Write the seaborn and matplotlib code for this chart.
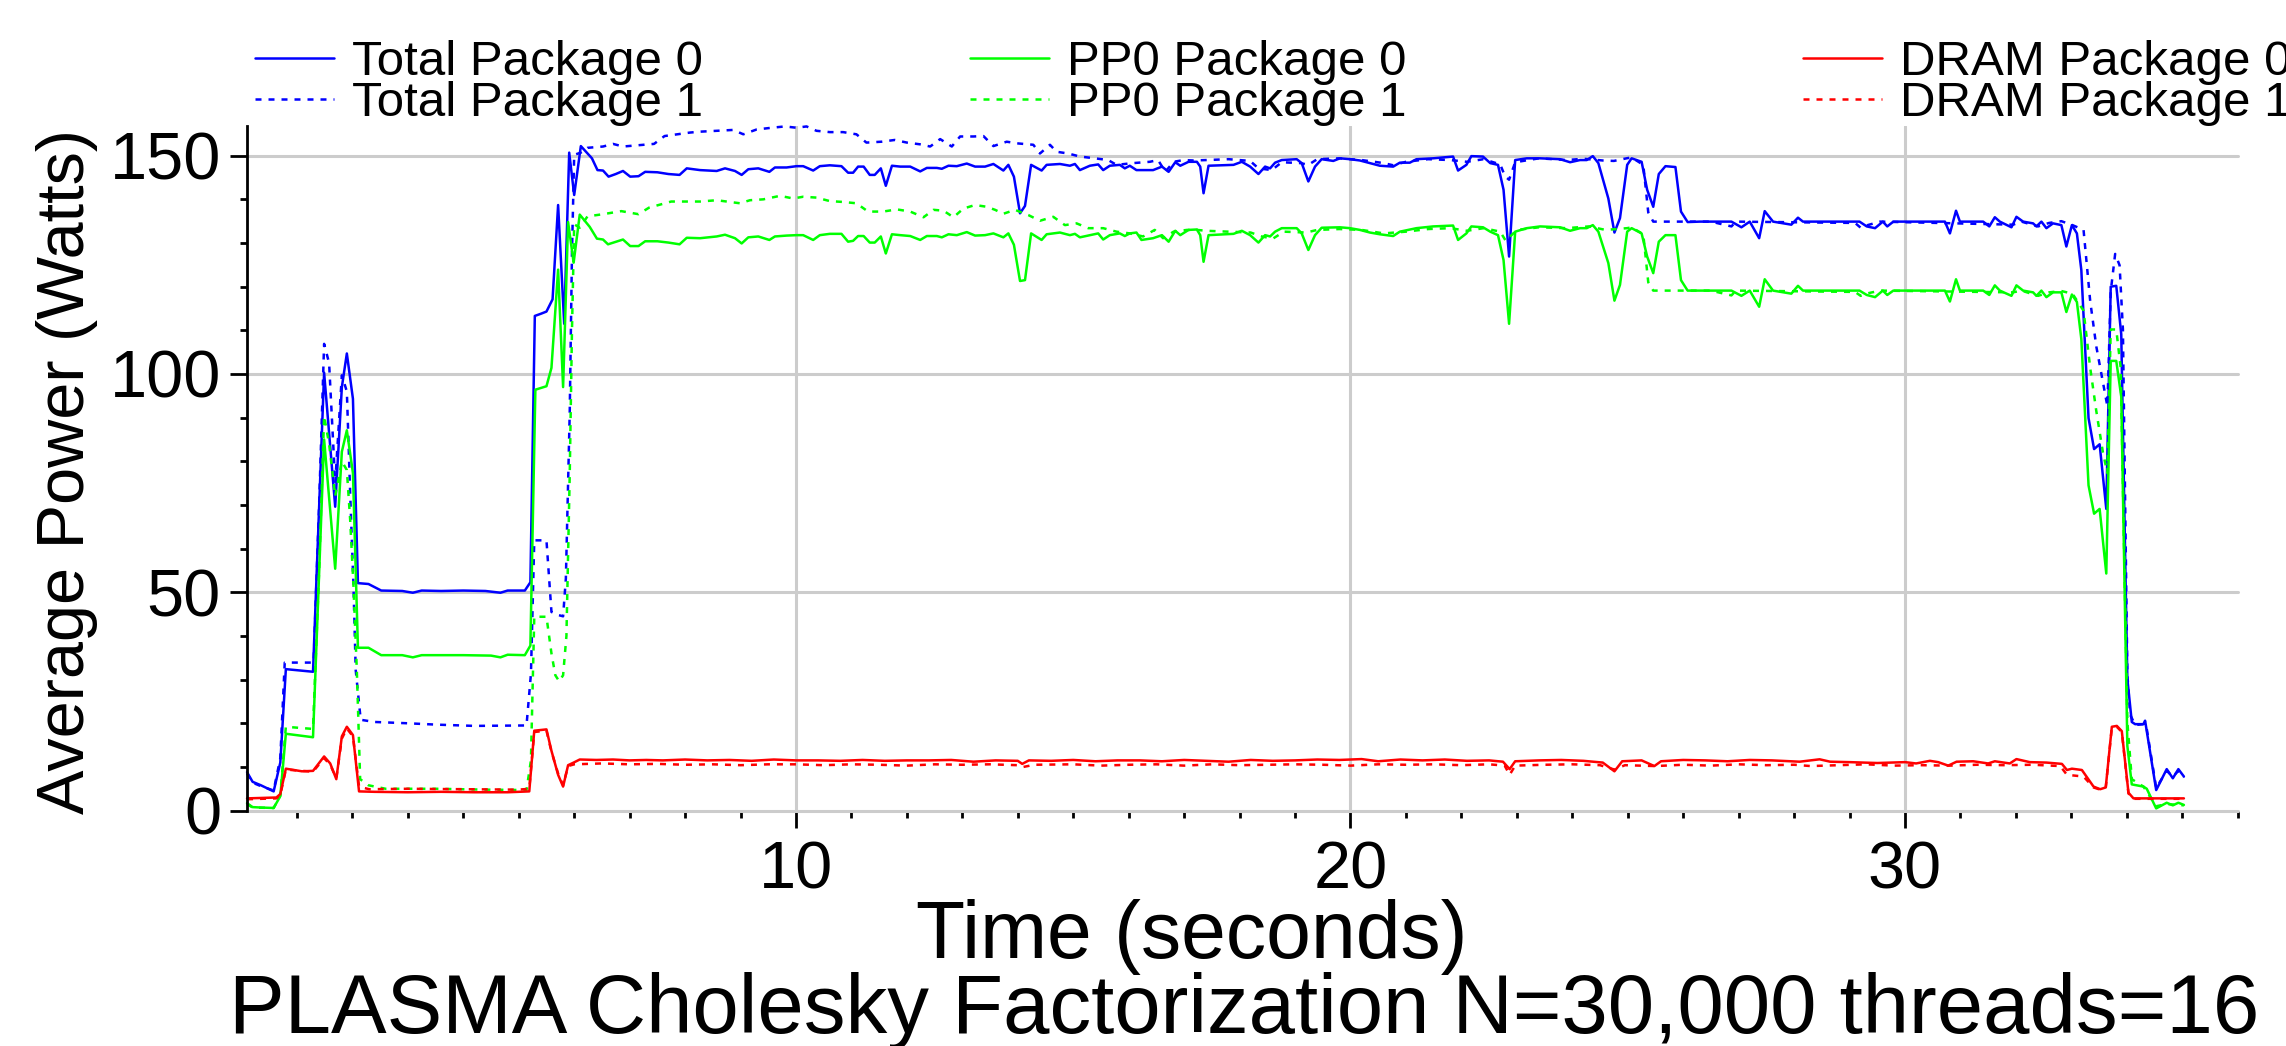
import matplotlib
matplotlib.use("Agg")
import matplotlib.pyplot as plt
import seaborn as sns
from matplotlib.ticker import MultipleLocator

# RAPL power readings, watts per package
total0_t = [0.10, 0.20, 0.35, 0.58, 0.70, 0.80, 1.29, 1.49, 1.69, 1.81, 1.90, 2.01, 2.10, 2.29, 2.52, 2.90, 3.09, 3.25, 3.60, 4.00, 4.40, 4.67, 4.80, 5.11, 5.21,
            5.29, 5.40, 5.50, 5.61, 5.71, 5.82, 5.91, 6.00, 6.12, 6.32, 6.42, 6.52, 6.62, 6.75, 6.88, 7.01, 7.16, 7.28, 7.50, 7.70, 7.90, 8.03, 8.27, 8.57,
            8.72, 8.90, 9.02, 9.14, 9.32, 9.52, 9.62, 9.83, 10.01, 10.13, 10.31, 10.43, 10.61, 10.82, 10.94, 11.03, 11.12, 11.22, 11.33, 11.42, 11.53, 11.62,
            11.73, 11.88, 12.06, 12.24, 12.36, 12.54, 12.63, 12.75, 12.90, 13.08, 13.23, 13.41, 13.56, 13.74, 13.83, 13.93, 14.04, 14.13, 14.24, 14.43, 14.52,
            14.76, 14.94, 15.03, 15.12, 15.30, 15.45, 15.54, 15.66, 15.84, 15.93, 16.02, 16.14, 16.44, 16.60, 16.72, 16.84, 16.93, 17.08, 17.23, 17.29, 17.35,
            17.44, 17.89, 18.04, 18.19, 18.34, 18.46, 18.55, 18.64, 18.76, 19.03, 19.12, 19.24, 19.36, 19.48, 19.69, 19.81, 19.99, 20.17, 20.35, 20.53, 20.77,
            20.89, 21.07, 21.19, 21.49, 21.85, 21.94, 22.09, 22.18, 22.39, 22.52, 22.66, 22.76, 22.86, 22.97, 23.18, 23.42, 23.78, 23.96, 24.14, 24.26, 24.37,
            24.47, 24.65, 24.76, 24.86, 24.99, 25.07, 25.25, 25.35, 25.46, 25.56, 25.68, 25.86, 25.96, 26.08, 26.30, 26.87, 27.05, 27.20, 27.37, 27.47, 27.62,
            27.95, 28.07, 28.16, 29.18, 29.31, 29.46, 29.60, 29.68, 29.79, 30.72, 30.81, 30.92, 30.99, 31.41, 31.52, 31.62, 31.71, 31.92, 32.01, 32.13, 32.31,
            32.37, 32.46, 32.55, 32.67, 32.82, 32.91, 33.01, 33.10, 33.18, 33.31, 33.41, 33.51, 33.63, 33.71, 33.81, 33.90, 34.01, 34.09, 34.15, 34.30, 34.33,
            34.53, 34.72, 34.83, 34.93, 35.03]
total0_w = [8.8, 6.6, 5.8, 4.4, 11.0, 32.4, 31.8, 100.3, 69.6, 97.0, 104.7, 94.3, 52.1, 51.9, 50.4, 50.3, 49.9, 50.4, 50.3, 50.4, 50.3, 49.9, 50.4, 50.4, 52.3,
            113.3, 113.8, 114.3, 117.1, 138.7, 111.5, 150.7, 141.0, 152.2, 149.4, 146.7, 146.6, 145.2, 145.8, 146.5, 145.2, 145.3, 146.3, 146.2, 145.8, 145.6, 147.1, 146.7, 146.5,
            147.1, 146.5, 145.6, 146.9, 147.1, 146.3, 147.3, 147.3, 147.6, 147.6, 146.6, 147.6, 147.8, 147.6, 146.1, 146.1, 147.5, 147.5, 145.6, 145.6, 147.1, 143.1,
            147.7, 147.5, 147.5, 146.4, 147.2, 147.2, 147.0, 147.7, 147.6, 148.2, 147.5, 147.5, 148.1, 146.6, 147.9, 145.2, 136.8, 138.5, 147.9, 146.6, 147.9,
            148.1, 147.7, 148.1, 146.7, 147.7, 148.0, 146.7, 147.7, 147.9, 147.1, 147.7, 146.7, 146.7, 147.5, 146.3, 148.5, 147.7, 148.6, 148.6, 147.5, 141.4,
            147.7, 147.9, 148.6, 147.5, 145.8, 147.5, 147.1, 148.4, 149.0, 149.2, 148.3, 144.1, 147.5, 149.2, 148.8, 149.4, 149.2, 148.9, 148.3, 147.7, 147.5,
            148.4, 148.4, 149.2, 149.4, 149.8, 146.6, 147.9, 149.9, 149.8, 148.3, 147.9, 142.2, 126.9, 149.0, 149.4, 149.4, 149.2, 148.5, 149.0, 149.0, 149.9,
            148.3, 140.2, 132.4, 135.7, 147.9, 149.4, 148.6, 142.2, 138.3, 145.8, 147.6, 147.4, 137.2, 134.8, 134.9, 134.9, 133.6, 134.9, 131.1, 137.3, 134.9,
            134.2, 135.8, 134.9, 134.9, 133.8, 133.4, 134.9, 133.8, 134.9, 134.9, 132.2, 137.4, 134.9, 134.9, 133.8, 135.9, 134.9, 133.6, 136.0, 134.9, 134.5,
            133.8, 134.9, 133.4, 134.5, 134.1, 129.2, 134.1, 132.2, 123.8, 89.9, 82.8, 83.9, 69.1, 120.0, 120.2, 109.1, 30.2, 20.3, 19.8, 19.8, 20.6,
            4.7, 9.5, 7.4, 9.5, 7.8]

total1_t = [0.10, 0.20, 0.35, 0.58, 0.70, 0.78, 1.30, 1.40, 1.49, 1.58, 1.69, 1.81, 1.90, 1.96, 2.02, 2.06, 2.15, 2.40, 3.00, 3.50, 4.20, 5.14, 5.22, 5.28,
            5.50, 5.59, 5.71, 5.80, 5.85, 5.92, 5.96, 6.00, 6.12, 6.24, 6.52, 6.70, 6.88, 7.16, 7.44, 7.63, 8.09, 8.27, 8.57, 8.87, 9.05, 9.29, 9.56, 9.80,
            10.01, 10.19, 10.37, 10.61, 10.85, 11.09, 11.27, 11.54, 11.78, 12.00, 12.24, 12.42, 12.60, 12.81, 12.96, 13.20, 13.38, 13.56, 13.80, 14.01, 14.28,
            14.40, 14.58, 14.70, 14.91, 15.12, 15.39, 15.63, 15.78, 16.08, 16.38, 16.53, 16.66, 16.81, 16.99, 17.17, 17.40, 17.80, 18.19, 18.34, 18.58, 18.76,
            19.10, 19.24, 19.40, 19.80, 20.20, 20.60, 20.77, 21.00, 21.40, 21.80, 22.10, 22.40, 22.70, 22.79, 22.86, 22.97, 23.40, 23.90, 24.20, 24.55, 24.75,
            24.98, 25.07, 25.28, 25.37, 25.46, 26.50, 26.87, 26.95, 29.10, 29.20, 29.30, 29.55, 31.95, 32.10, 32.40, 32.60, 32.82, 33.02, 33.22, 33.34, 33.45,
            33.57, 33.65, 33.71, 33.79, 33.87, 33.93, 34.01, 34.06, 34.15, 34.30, 34.35, 34.53, 34.72, 34.83, 34.93, 35.03]
total1_w = [8.5, 6.4, 5.6, 4.6, 12.0, 33.9, 33.9, 70.0, 106.9, 102.5, 75.0, 99.7, 96.0, 72.7, 51.3, 32.2, 20.8, 20.3, 20.0, 19.7, 19.4, 19.5, 31.3, 61.9,
            61.9, 45.5, 44.8, 44.5, 53.2, 91.5, 127.7, 150.2, 150.7, 151.8, 152.1, 152.7, 152.1, 152.4, 152.7, 154.5, 155.3, 155.5, 155.7, 155.9, 154.9, 156.0, 156.4, 156.7,
            156.4, 156.7, 155.7, 155.4, 155.4, 154.9, 153.0, 153.2, 153.6, 153.0, 152.6, 152.1, 153.8, 152.1, 154.4, 154.4, 154.5, 152.2, 153.2, 152.8, 152.5,
            150.5, 152.5, 150.9, 150.5, 149.8, 149.4, 149.0, 147.9, 148.3, 148.6, 149.0, 146.3, 148.6, 149.0, 148.9, 149.0, 149.2, 148.8, 147.1, 146.7, 148.5,
            148.3, 147.9, 149.2, 149.4, 149.0, 148.3, 147.8, 148.6, 149.2, 149.0, 148.6, 149.2, 148.0, 145.2, 144.5, 148.5, 149.4, 149.0, 149.3, 148.9, 148.8,
            149.4, 149.6, 147.9, 137.0, 134.9, 134.9, 133.8, 134.9, 134.6, 133.5, 134.0, 134.9, 134.2, 134.9, 133.8, 134.6, 135.0, 134.1, 133.0, 116.7, 106.3,
            98.1, 92.6, 118.9, 127.5, 124.9, 110.2, 31.3, 22.0, 19.6, 19.8, 19.5, 5.2, 9.1, 7.8, 9.1, 7.6]

pp0_0_t = [0.10, 0.20, 0.35, 0.58, 0.70, 0.80, 1.29, 1.49, 1.69, 1.81, 1.90, 2.01, 2.10, 2.29, 2.52, 2.90, 3.09, 3.25, 4.00, 4.50, 4.67, 4.80, 5.11, 5.21,
           5.30, 5.50, 5.59, 5.71, 5.80, 5.89, 5.99, 6.10, 6.28, 6.41, 6.52, 6.61, 6.88, 7.01, 7.16, 7.28, 7.50, 7.70, 7.90, 8.03, 8.27, 8.57, 8.72, 8.90,
           9.02, 9.14, 9.32, 9.52, 9.62, 9.83, 10.01, 10.13, 10.31, 10.43, 10.61, 10.82, 10.94, 11.03, 11.12, 11.22, 11.33, 11.42, 11.53, 11.62, 11.73,
           11.88, 12.06, 12.24, 12.36, 12.54, 12.63, 12.75, 12.90, 13.08, 13.23, 13.41, 13.56, 13.74, 13.83, 13.93, 14.04, 14.13, 14.24, 14.43, 14.52, 14.76,
           14.94, 15.03, 15.12, 15.30, 15.45, 15.54, 15.66, 15.84, 15.93, 16.02, 16.14, 16.23, 16.44, 16.60, 16.72, 16.84, 16.93, 17.08, 17.23, 17.29, 17.35,
           17.44, 17.89, 18.04, 18.19, 18.34, 18.46, 18.55, 18.64, 18.76, 19.03, 19.12, 19.24, 19.36, 19.48, 19.81, 19.99, 20.17, 20.35, 20.53, 20.77, 20.89,
           21.19, 21.49, 21.85, 21.94, 22.09, 22.18, 22.39, 22.52, 22.66, 22.76, 22.86, 22.97, 23.18, 23.42, 23.78, 23.96, 24.14, 24.26, 24.37, 24.47, 24.65,
           24.76, 24.86, 24.99, 25.07, 25.25, 25.35, 25.46, 25.56, 25.68, 25.86, 25.96, 26.08, 26.30, 26.87, 27.05, 27.20, 27.37, 27.47, 27.62, 27.95, 28.07,
           28.16, 29.18, 29.31, 29.46, 29.60, 29.68, 29.79, 30.72, 30.81, 30.92, 30.99, 31.41, 31.52, 31.62, 31.71, 31.92, 32.01, 32.13, 32.31, 32.37, 32.46,
           32.55, 32.67, 32.82, 32.91, 33.01, 33.10, 33.18, 33.31, 33.41, 33.51, 33.63, 33.71, 33.81, 33.90, 34.01, 34.09, 34.30, 34.36, 34.53, 34.72, 34.83,
           34.93, 35.03]
pp0_0_w = [1.7, 0.8, 0.7, 0.6, 3.3, 17.6, 16.8, 85.0, 55.4, 82.2, 87.1, 77.3, 37.3, 37.3, 35.6, 35.6, 35.1, 35.6, 35.6, 35.5, 35.1, 35.7, 35.6, 37.8,
           96.4, 97.2, 101.4, 123.9, 97.0, 134.8, 125.5, 136.5, 133.7, 131.0, 130.8, 129.7, 130.8, 129.3, 129.3, 130.4, 130.4, 130.1, 129.7, 131.2, 131.1, 131.5, 131.9, 131.1,
           129.9, 131.3, 131.5, 130.7, 131.5, 131.7, 131.8, 131.8, 130.7, 131.8, 132.1, 132.1, 130.3, 130.5, 131.6, 131.6, 130.1, 130.1, 131.5, 127.6, 132.0,
           131.8, 131.6, 130.7, 131.6, 131.6, 131.3, 132.0, 131.8, 132.5, 131.7, 131.8, 132.2, 131.3, 132.2, 129.6, 121.3, 121.5, 132.2, 130.7, 132.0, 132.4,
           131.8, 132.1, 131.3, 131.8, 132.2, 130.8, 131.8, 132.2, 131.6, 132.2, 132.4, 130.7, 131.1, 131.8, 130.3, 132.8, 131.8, 133.0, 133.1, 131.8, 125.7,
           131.8, 132.1, 132.8, 131.8, 130.1, 131.8, 131.5, 132.6, 133.4, 133.4, 132.2, 128.4, 131.8, 133.5, 133.6, 133.4, 133.0, 132.4, 132.0, 131.6, 132.6,
           133.4, 133.8, 134.0, 130.7, 132.2, 133.8, 133.6, 132.6, 131.8, 126.1, 111.5, 132.6, 133.4, 133.8, 133.6, 132.8, 133.4, 133.4, 134.1, 132.6, 125.4,
           116.8, 120.4, 132.6, 133.4, 132.2, 126.9, 123.1, 130.3, 131.8, 131.8, 121.5, 119.1, 119.1, 119.1, 117.9, 119.1, 115.4, 121.7, 119.1, 118.4, 120.2,
           119.1, 119.1, 118.1, 117.6, 119.1, 118.1, 119.1, 119.1, 116.6, 121.7, 119.1, 119.1, 118.1, 120.3, 119.1, 117.9, 120.3, 119.1, 118.7, 117.9, 119.1,
           117.6, 118.7, 118.7, 114.2, 118.2, 116.5, 108.0, 74.5, 68.0, 69.1, 54.3, 103.0, 103.0, 94.8, 14.8, 6.0, 5.5, 5.0, 0.5, 1.8, 1.2,
           1.8, 1.3]

pp0_1_t = [0.10, 0.20, 0.58, 0.70, 0.80, 1.29, 1.40, 1.49, 1.58, 1.69, 1.81, 1.90, 1.96, 2.02, 2.08, 2.14, 2.29, 2.60, 3.50, 4.40, 5.14, 5.22, 5.28, 5.50,
           5.59, 5.66, 5.73, 5.80, 5.86, 5.92, 5.96, 6.00, 6.10, 6.24, 6.52, 6.85, 7.16, 7.35, 7.75, 8.27, 8.57, 8.99, 9.17, 9.41, 9.71, 9.95, 10.13, 10.37,
           10.61, 10.85, 11.09, 11.30, 11.57, 11.82, 12.06, 12.30, 12.48, 12.66, 12.84, 13.02, 13.23, 13.44, 13.59, 13.74, 13.95, 14.19, 14.40, 14.64, 14.85,
           15.06, 15.27, 15.54, 15.78, 16.02, 16.26, 16.47, 16.62, 16.81, 17.05, 17.23, 17.40, 17.80, 18.20, 18.40, 18.60, 18.80, 19.20, 19.40, 19.80, 20.20,
           20.60, 21.00, 21.40, 21.80, 22.10, 22.40, 22.70, 22.80, 23.00, 23.40, 23.90, 24.30, 24.60, 24.99, 25.07, 25.28, 25.37, 25.46, 26.50, 26.87, 26.95,
           29.10, 29.20, 29.30, 29.55, 31.95, 32.10, 32.40, 32.60, 32.82, 33.02, 33.22, 33.34, 33.45, 33.57, 33.65, 33.71, 33.81, 33.89, 34.01, 34.09, 34.30,
           34.53, 34.72, 35.03]
pp0_1_w = [1.5, 0.7, 0.6, 3.5, 19.2, 18.7, 55.0, 90.4, 84.0, 72.0, 80.0, 78.0, 66.6, 51.3, 32.2, 7.2, 5.8, 5.0, 5.0, 4.8, 4.7, 11.5, 44.4, 44.4,
           36.0, 31.0, 29.6, 31.0, 40.0, 77.3, 110.0, 134.3, 133.5, 136.1, 136.6, 137.3, 136.6, 138.1, 139.5, 139.5, 139.8, 139.1, 139.8, 140.0, 140.8, 140.2, 140.6, 140.4,
           139.6, 139.4, 139.1, 137.2, 137.2, 137.7, 137.2, 135.9, 137.6, 137.4, 135.9, 137.9, 138.7, 138.3, 137.6, 136.7, 137.6, 136.4, 135.1, 136.0, 134.1,
           134.5, 133.4, 133.4, 132.6, 132.2, 131.5, 133.0, 131.1, 132.6, 133.0, 133.0, 132.8, 132.6, 132.4, 131.5, 131.0, 132.6, 132.4, 133.0, 133.2, 133.0,
           132.2, 132.6, 133.2, 133.4, 132.8, 133.4, 132.6, 130.5, 133.0, 133.6, 133.4, 133.8, 133.0, 133.4, 133.6, 132.0, 121.0, 119.1, 119.1, 118.0, 119.1,
           118.8, 117.9, 118.4, 119.1, 118.7, 119.1, 117.9, 118.7, 119.0, 118.4, 114.5, 101.4, 91.5, 82.0, 77.3, 110.2, 110.2, 101.4, 20.3, 7.2, 5.5,
           1.0, 1.5, 1.2]

dram0_t = [0.10, 0.63, 0.70, 0.80, 1.09, 1.29, 1.49, 1.60, 1.71, 1.81, 1.90, 2.01, 2.12, 2.40, 3.00, 3.60, 4.20, 4.80, 5.19, 5.28, 5.50, 5.59, 5.71, 5.80,
           5.89, 5.99, 6.10, 6.40, 6.70, 7.00, 7.30, 7.60, 8.00, 8.40, 8.80, 9.20, 9.60, 10.00, 10.40, 10.80, 11.20, 11.60, 12.00, 12.40, 12.80, 13.20, 13.60,
           14.00, 14.08, 14.20, 14.60, 15.00, 15.40, 15.80, 16.20, 16.60, 17.00, 17.40, 17.80, 18.20, 18.60, 19.00, 19.40, 19.80, 20.20, 20.50, 20.90, 21.30,
           21.70, 22.10, 22.50, 22.75, 22.87, 22.97, 23.40, 23.80, 24.20, 24.55, 24.76, 24.90, 25.25, 25.48, 25.60, 26.00, 26.40, 26.80, 27.20, 27.60, 28.10,
           28.46, 28.65, 29.00, 29.50, 30.00, 30.20, 30.45, 30.60, 30.78, 30.93, 31.23, 31.50, 31.62, 31.89, 32.01, 32.25, 32.55, 32.83, 32.92, 33.01, 33.19,
           33.40, 33.52, 33.62, 33.73, 33.82, 33.91, 34.03, 34.12, 35.03]
dram0_w = [2.8, 3.0, 3.8, 9.6, 9.0, 9.1, 12.4, 10.8, 7.2, 17.0, 19.2, 17.3, 4.4, 4.3, 4.2, 4.3, 4.2, 4.2, 4.4, 18.3, 18.6, 13.7, 8.2, 5.5,
           10.4, 11.0, 11.7, 11.6, 11.7, 11.5, 11.6, 11.5, 11.7, 11.5, 11.6, 11.4, 11.7, 11.5, 11.5, 11.4, 11.6, 11.4, 11.5, 11.5, 11.6, 11.2, 11.5,
           11.4, 10.7, 11.5, 11.4, 11.6, 11.3, 11.5, 11.5, 11.3, 11.6, 11.4, 11.2, 11.6, 11.4, 11.5, 11.7, 11.6, 11.8, 11.3, 11.7, 11.5,
           11.7, 11.4, 11.5, 11.2, 9.5, 11.3, 11.5, 11.6, 11.4, 11.0, 9.0, 11.3, 11.5, 10.2, 11.3, 11.6, 11.5, 11.3, 11.6, 11.5, 11.2,
           11.75, 11.2, 11.1, 10.9, 11.1, 10.8, 11.4, 11.1, 10.3, 11.2, 11.3, 10.8, 11.3, 10.8, 11.8, 11.1, 11.0, 10.7, 9.3, 9.6, 9.3,
           5.5, 4.9, 5.3, 19.2, 19.4, 18.2, 4.1, 2.8, 2.8]

dram1_t = [0.10, 0.63, 0.70, 0.80, 1.29, 1.49, 1.60, 1.71, 1.81, 1.90, 2.01, 2.12, 2.30, 3.00, 4.00, 5.00, 5.19, 5.28, 5.50, 5.59, 5.71, 5.80, 5.89, 6.00,
           6.50, 7.00, 7.50, 8.00, 8.50, 9.00, 9.50, 10.00, 10.50, 11.00, 11.50, 12.00, 12.50, 13.00, 13.50, 14.00, 14.10, 14.30, 15.00, 15.50, 16.00, 16.50,
           17.00, 17.50, 18.00, 18.50, 19.00, 19.50, 20.00, 20.50, 21.00, 21.50, 22.00, 22.50, 22.78, 22.87, 22.97, 23.50, 24.00, 24.50, 24.76, 24.95, 25.50,
           26.00, 26.50, 27.00, 27.50, 28.00, 28.30, 28.80, 29.30, 29.80, 30.30, 30.80, 31.30, 31.80, 32.30, 32.80, 32.92, 33.22, 33.40, 33.52, 33.62, 33.73,
           33.82, 33.91, 34.03, 34.12, 35.03]
dram1_w = [2.6, 2.8, 3.6, 9.4, 8.9, 12.0, 10.5, 7.4, 16.5, 18.8, 17.0, 5.5, 4.9, 5.0, 4.9, 4.8, 5.0, 18.0, 18.3, 13.5, 8.5, 5.8, 10.2, 10.6,
           10.8, 10.6, 10.7, 10.5, 10.6, 10.4, 10.6, 10.6, 10.4, 10.6, 10.5, 10.3, 10.6, 10.5, 10.6, 10.4, 10.0, 10.5, 10.6, 10.3, 10.5, 10.6,
           10.3, 10.6, 10.4, 10.5, 10.6, 10.5, 10.3, 10.6, 10.5, 10.6, 10.4, 10.6, 10.3, 8.2, 10.3, 10.5, 10.6, 10.4, 9.4, 10.4, 10.2,
           10.5, 10.3, 10.6, 10.4, 10.5, 10.2, 10.4, 10.6, 10.3, 10.4, 10.3, 10.5, 10.4, 10.5, 10.2, 8.2, 7.8, 5.3, 4.8, 5.2, 19.0,
           19.2, 18.0, 3.9, 2.7, 2.7]

labels = ["Total Package 0", "Total Package 1", "PP0 Package 0", "PP0 Package 1", "DRAM Package 0", "DRAM Package 1"]

sns.set_theme(style="white")
plt.rcParams["font.family"] = ["Liberation Sans", "DejaVu Sans"]
plt.rcParams["text.color"] = "black"
plt.rcParams["xtick.color"] = "black"
plt.rcParams["ytick.color"] = "black"
plt.rcParams["axes.labelcolor"] = "black"

W, H = 2286, 1046
fig = plt.figure(figsize=(W / 100, H / 100), dpi=100)
ax = fig.add_axes([246.7 / W, 1 - 810.6 / H, (2237.7 - 246.7) / W, (810.6 - 126) / H])

dotted = (0, (2.4, 2.8))
series = [(total0_t, total0_w, "#0000ff", "-"), (total1_t, total1_w, "#0000ff", dotted),
          (pp0_0_t, pp0_0_w, "#00ff00", "-"), (pp0_1_t, pp0_1_w, "#00ff00", dotted),
          (dram0_t, dram0_w, "#ff0000", "-"), (dram1_t, dram1_w, "#ff0000", dotted)]
handles = []
for (t, w, c, ls), lab in zip(series, labels):
    sns.lineplot(x=t, y=w, ax=ax, color=c, linewidth=1.8, estimator=None, sort=False, legend=False)
    line = ax.lines[-1]
    line.set_linestyle(ls)
    line.set_clip_on(False)
    line.set_label(lab)
    handles.append(line)

ax.set_xlim(0.094, 36)
ax.set_ylim(0, 156.8)
ax.xaxis.set_major_locator(MultipleLocator(10))
ax.xaxis.set_minor_locator(MultipleLocator(1))
ax.yaxis.set_major_locator(MultipleLocator(50))
ax.yaxis.set_minor_locator(MultipleLocator(10))
ax.set_xticks([10, 20, 30])
ax.grid(True, which="major", color="#cccccc", linewidth=2.2)
ax.set_axisbelow(True)
for gl in ax.get_ygridlines():
    gl.set_clip_on(False)
for s in ["top", "right", "bottom"]:
    ax.spines[s].set_visible(False)
ax.spines["left"].set_color("black")
ax.spines["left"].set_linewidth(2.0)
ax.tick_params(axis="both", which="major", direction="out", length=12.5, width=2, color="black",
               labelcolor="black", labelsize=48, pad=6, left=True, bottom=True)
ax.tick_params(axis="x", which="major", pad=9)
ax.tick_params(axis="both", which="minor", direction="out", length=5, width=2, color="black",
               left=True, bottom=True)
ax.set_xlabel("")
ax.set_ylabel("")

fig.text(67 / W, 1 - 471 / H, "Average Power (Watts)", rotation=90, ha="center", va="center", fontsize=48)
fig.text(1192 / W, 1 - 958 / H, "Time (seconds)", ha="center", va="baseline", fontsize=58)
fig.text(1244 / W, 1 - 1033 / H, "PLASMA Cholesky Factorization N=30,000 threads=16",
         ha="center", va="baseline", fontsize=60)

for k, x0 in enumerate([255, 970, 1803]):
    leg = fig.legend(handles=handles[2 * k:2 * k + 2], loc="upper left",
                     bbox_to_anchor=(x0 / W, 1 - 40 / H), frameon=False, fontsize=35.5,
                     handlelength=1.6, handletextpad=0.37, labelspacing=-0.08,
                     borderpad=0, borderaxespad=0)

fig.savefig("out.png", dpi=100)
